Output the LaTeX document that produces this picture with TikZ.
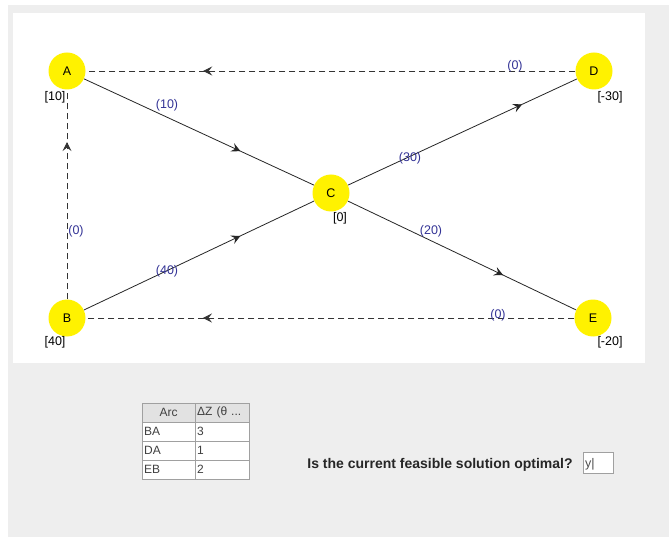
\documentclass[tikz,border=0pt]{standalone}
\usepackage{fontspec}
\setmainfont{Liberation Sans}
\usetikzlibrary{arrows.meta,decorations.markings}
\definecolor{bggray}{RGB}{238,238,238}
\definecolor{lblblue}{RGB}{51,51,150}
\definecolor{gridgray}{RGB}{160,160,160}
\definecolor{hdrgray}{RGB}{226,226,226}
\tikzset{
  vert/.style={circle,fill=yellow,minimum size=37pt,inner sep=0pt,font=\fontsize{12.5}{14}\selectfont},
  pot/.style={font=\fontsize{12.5}{14}\selectfont,inner sep=1pt},
  flow/.style={font=\fontsize{12.5}{14}\selectfont,text=lblblue,inner sep=1pt},
  arcmark/.style={postaction={decorate,decoration={markings,mark=at position #1 with {\arrow{Stealth[length=9pt,width=9pt,inset=3.5pt]}}}}},
  solidarc/.style={draw=black!85,line width=0.8pt},
  dasharc/.style={draw=black!80,line width=0.8pt,dash pattern=on 6pt off 4pt},
  cell/.style={draw=gridgray,fill=white,minimum height=19pt,inner sep=2pt,font=\fontsize{12}{13}\selectfont,anchor=north west,text=black!75},
  hdr/.style={cell,fill=hdrgray}
}
\begin{document}
\begin{tikzpicture}[x=1pt,y=-1pt]
\useasboundingbox (0,0) rectangle (669,537);
\fill[white] (0,0) rectangle (669,537);
\fill[bggray] (8,5) rectangle (669,537);
\fill[white] (13,13) rectangle (645,363);

\node[vert] (A) at (67,71) {A};
\node[vert] (D) at (594,71) {D};
\node[vert] (C) at (331,193) {C};
\node[vert] (B) at (67,318) {B};
\node[vert] (E) at (593,318) {E};

\node[pot] (pA) at (55,97) {[10]};
\node[pot] (pD) at (610,97) {[-30]};
\node[pot] (pC) at (340,218) {[0]};
\node[pot] (pB) at (55,342) {[40]};
\node[pot] (pE) at (610,342) {[-20]};

\path[solidarc,arcmark=0.68] (A) -- (C);
\path[solidarc,arcmark=0.76] (C) -- (D);
\path[solidarc,arcmark=0.68] (B) -- (C);
\path[solidarc,arcmark=0.68] (C) -- (E);
\path[dasharc,arcmark=0.76] (D) -- (A);
\path[dasharc,arcmark=0.76] (E) -- (B);
\path[dasharc,arcmark=0.75] (B) -- (A);

\node[flow] (fAC) at (167,105) {(10)};
\node[flow] (fCD) at (410,158) {(30)};
\node[flow] (fBC) at (167,271) {(40)};
\node[flow] (fCE) at (431,231) {(20)};
\node[flow] (fDA) at (515,66) {(0)};
\node[flow] (fEB) at (498,315) {(0)};
\node[flow] (fBA) at (76,231) {(0)};

\node[hdr,minimum width=53pt,align=center] (h1) at (142,403) {Arc};
\node[hdr,minimum width=54pt,text width=50pt,align=left] (h2) at (195,403) {ΔZ (θ ...};
\node[cell,minimum width=53pt,text width=49pt,align=left] (r1a) at (142,422) {BA};
\node[cell,minimum width=54pt,text width=50pt,align=left] (r1b) at (195,422) {3};
\node[cell,minimum width=53pt,text width=49pt,align=left] (r2a) at (142,441) {DA};
\node[cell,minimum width=54pt,text width=50pt,align=left] (r2b) at (195,441) {1};
\node[cell,minimum width=53pt,text width=49pt,align=left] (r3a) at (142,460) {EB};
\node[cell,minimum width=54pt,text width=50pt,align=left] (r3b) at (195,460) {2};

\node[font=\bfseries\fontsize{14}{16}\selectfont,text=black!85] (q) at (440,465) {Is the current feasible solution optimal?};
\node[draw=gridgray,fill=white,minimum width=30pt,minimum height=21pt,inner sep=0pt] (ans) at (598,463) {};
\node[font=\fontsize{12.5}{14}\selectfont,anchor=west,inner sep=0pt,text=black!70] (ansy) at (585,464) {y|};
\end{tikzpicture}
\end{document}
